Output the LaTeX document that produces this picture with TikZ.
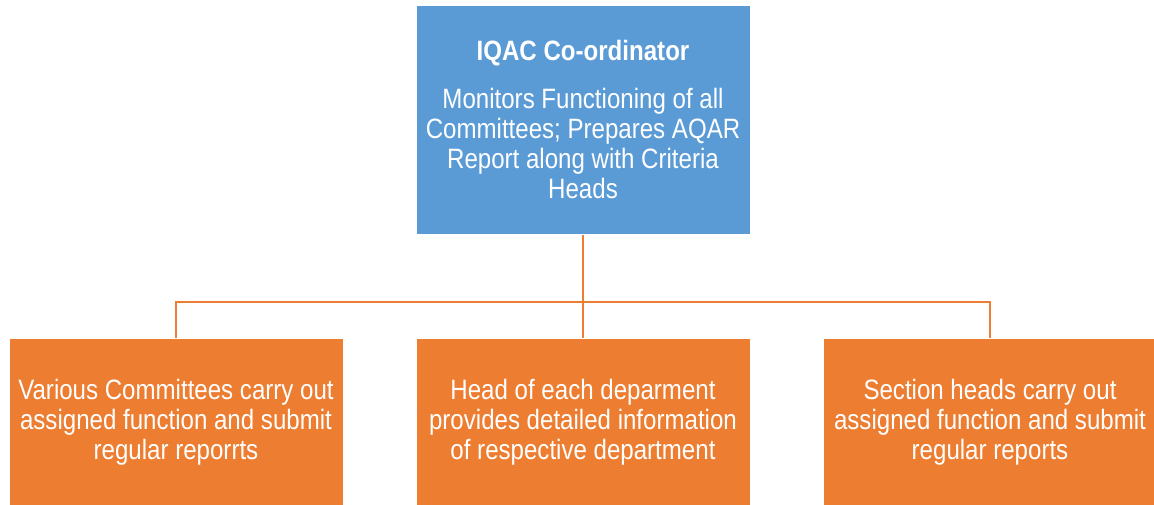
\documentclass[tikz,border=0pt]{standalone}
\usepackage{fontspec}
\setmainfont{Liberation Sans}[FakeStretch=0.86]
\usetikzlibrary{positioning}

\definecolor{iqacblue}{HTML}{5B9BD5}
\definecolor{iqacorange}{HTML}{ED7D31}

\begin{document}
\begin{tikzpicture}[
    x=0.75pt, y=-0.75pt,
    node distance=77.5pt and 54pt,
    every node/.style={font=\fontsize{21}{22.6}\selectfont, text=white, align=center},
    % top box
    headbox/.style={draw=white, line width=0.75pt, fill=iqacblue,
                    minimum width=250.5pt, minimum height=171.75pt, inner sep=0pt},
    % bottom boxes
    unitbox/.style={draw=white, line width=0.75pt, fill=iqacorange,
                    minimum width=250.5pt, minimum height=126pt, inner sep=0pt},
    link/.style={draw=iqacorange, line width=1.5pt}
]
\useasboundingbox (0,0) rectangle (1154,504);

% === NODES ===

% IQAC at top
\node[headbox] (iqac) at (583,119.5)
    {{\bfseries IQAC Co-ordinator}\\[13pt]
     Monitors Functioning of all\\
     Committees; Prepares AQAR\\
     Report along with Criteria\\
     Heads};

% bottom row
\node[unitbox, below=of iqac] (dept)
    {Head of each deparment\\
     provides detailed information\\
     of respective department};
\node[unitbox, left=of dept] (committees)
    {Various Committees carry out\\
     assigned function and submit\\
     regular reporrts};
\node[unitbox, right=of dept] (sections)
    {Section heads carry out\\
     assigned function and submit\\
     regular reports};

% === CONNECTORS ===
\coordinate (bus) at (583,302);
\draw[link] (iqac.south) -- (bus);
\draw[link] (committees.north) |- (bus) -| (sections.north);
\draw[link] (bus) -- (dept.north);

\end{tikzpicture}
\end{document}
